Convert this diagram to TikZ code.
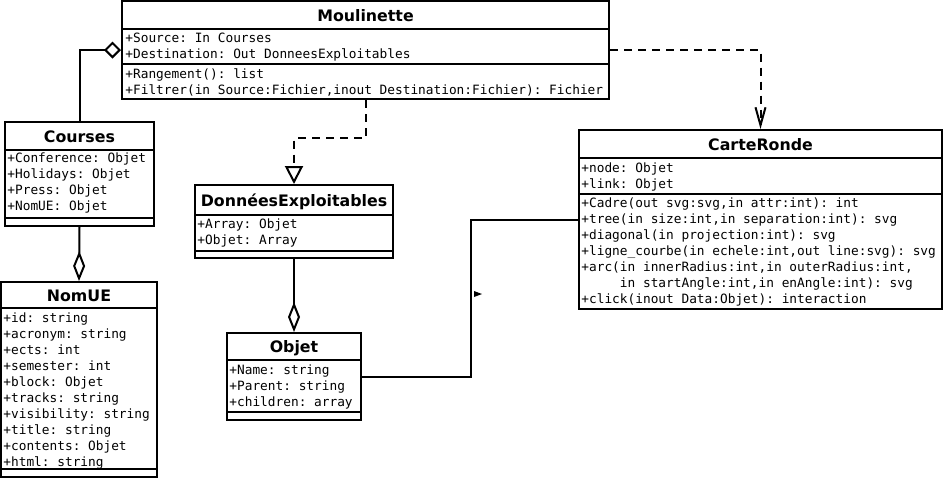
\documentclass[tikz,border=0pt]{standalone}
\usepackage{fontspec}
\setmainfont{DejaVu Sans}
\setmonofont{DejaVu Sans Mono}
\usetikzlibrary{arrows.meta,fit,positioning}

\tikzset{
    umlbox/.style={draw, line width=1pt, inner sep=0pt},
    umlname/.style={font=\fontsize{7.9}{9}\selectfont\bfseries, anchor=base, inner sep=0pt},
    umlattr/.style={font=\fontsize{6.4}{8}\selectfont\ttfamily, anchor=base west, inner sep=0pt},
    umlline/.style={line width=1pt},
    aggreg/.style={umlline, {Diamond[open, length=15pt, width=6pt, line width=1pt]}-},
    aggregside/.style={umlline, {Diamond[open, length=8.5pt, width=8.5pt, line width=1pt]}-},
    realize/.style={umlline, dash pattern=on 4pt off 3pt, -{Triangle[open, length=9pt, width=9pt, line width=1pt]}},
    depend/.style={umlline, dash pattern=on 4pt off 3pt, -{Straight Barb[length=9pt, width=5pt, line width=1pt]}},
}

\begin{document}
\begin{tikzpicture}[x=0.5pt, y=-0.5pt]
    \useasboundingbox (0,0) rectangle (946,483);

    % Moulinette
    \node[umlbox, fit={(122,1) (609,99)}] (moul) {};
    \node[umlname] (moul-name) at (365.5,21) {Moulinette};
    \draw[umlline] (122,29) -- (609,29);
    \draw[umlline] (122,64) -- (609,64);
    \foreach \txt [count=\i from 0] in {+Source: In Courses, +Destination: Out DonneesExploitables}
        \node[umlattr] at (125,{42+16*\i}) {\txt};
    \foreach \txt [count=\i from 0] in {+Rangement(): list, {+Filtrer(in Source:Fichier,inout Destination:Fichier): Fichier}}
        \node[umlattr] at (125,{78+16*\i}) {\txt};

    % Courses
    \node[umlbox, fit={(5,122) (154,226)}] (courses) {};
    \node[umlname] (courses-name) at (79.5,142) {Courses};
    \draw[umlline] (5,150) -- (154,150);
    \draw[umlline] (5,218) -- (154,218);
    \foreach \txt [count=\i from 0] in {+Conference: Objet, +Holidays: Objet, +Press: Objet, +NomUE: Objet}
        \node[umlattr] at (7,{162+16.3*\i}) {\txt};

    % NomUE
    \node[umlbox, fit={(1,282) (157,477)}] (nomue) {};
    \node[umlname] (nomue-name) at (79,301) {NomUE};
    \draw[umlline] (1,308) -- (157,308);
    \draw[umlline] (1,469) -- (157,469);
    \foreach \txt [count=\i from 0] in {+id: string, +acronym: string, +ects: int, +semester: int, +block: Objet,
        +tracks: string, +visibility: string, +title: string, +contents: Objet, +html: string}
        \node[umlattr] at (3,{322+16*\i}) {\txt};

    % DonneesExploitables
    \node[umlbox, fit={(195,185) (393,258)}] (donnees) {};
    \node[umlname] (donnees-name) at (294,206) {DonnéesExploitables};
    \draw[umlline] (195,215) -- (393,215);
    \draw[umlline] (195,251) -- (393,251);
    \foreach \txt [count=\i from 0] in {+Array: Objet, +Objet: Array}
        \node[umlattr] at (197,{228+16.5*\i}) {\txt};

    % Objet
    \node[umlbox, fit={(227,333) (361,420)}] (objet) {};
    \node[umlname] (objet-name) at (294,352) {Objet};
    \draw[umlline] (227,360) -- (361,360);
    \draw[umlline] (227,412) -- (361,412);
    \foreach \txt [count=\i from 0] in {+Name: string, +Parent: string, +children: array}
        \node[umlattr] at (229,{374+16*\i}) {\txt};

    % CarteRonde
    \node[umlbox, fit={(579,130) (942,309)}] (carte) {};
    \node[umlname] (carte-name) at (760.5,150) {CarteRonde};
    \draw[umlline] (579,158) -- (942,158);
    \draw[umlline] (579,194) -- (942,194);
    \foreach \txt [count=\i from 0] in {+node: Objet, +link: Objet}
        \node[umlattr] at (581,{172+16*\i}) {\txt};
    \foreach \txt [count=\i from 0] in {{+Cadre(out svg:svg,in attr:int): int},
        {+tree(in size:int,in separation:int): svg},
        {+diagonal(in projection:int): svg},
        {+ligne\_courbe(in echele:int,out line:svg): svg},
        {+arc(in innerRadius:int,in outerRadius:int,},
        {\phantom{+arc(}in startAngle:int,in enAngle:int): svg},
        {+click(inout Data:Objet): interaction}}
        \node[umlattr] at (581,{207+16*\i}) {\txt};

    % Relations
    \draw[aggregside] (moul.west) -| (courses.north);
    \draw[aggreg] (nomue.north) -- (courses.south);
    \draw[realize] (moul.south) -- ++(0,38) -| (donnees.north);
    \draw[depend] (moul.east) -| (carte.north);
    \draw[aggreg] (objet.north) -- (donnees.south);
    \draw[umlline] (objet.east) -- ++(109,0) |- (carte.west);

    % Direction marker of the association
    \fill (474,291) -- (482,294) -- (474,297) -- cycle;

\end{tikzpicture}
\end{document}
